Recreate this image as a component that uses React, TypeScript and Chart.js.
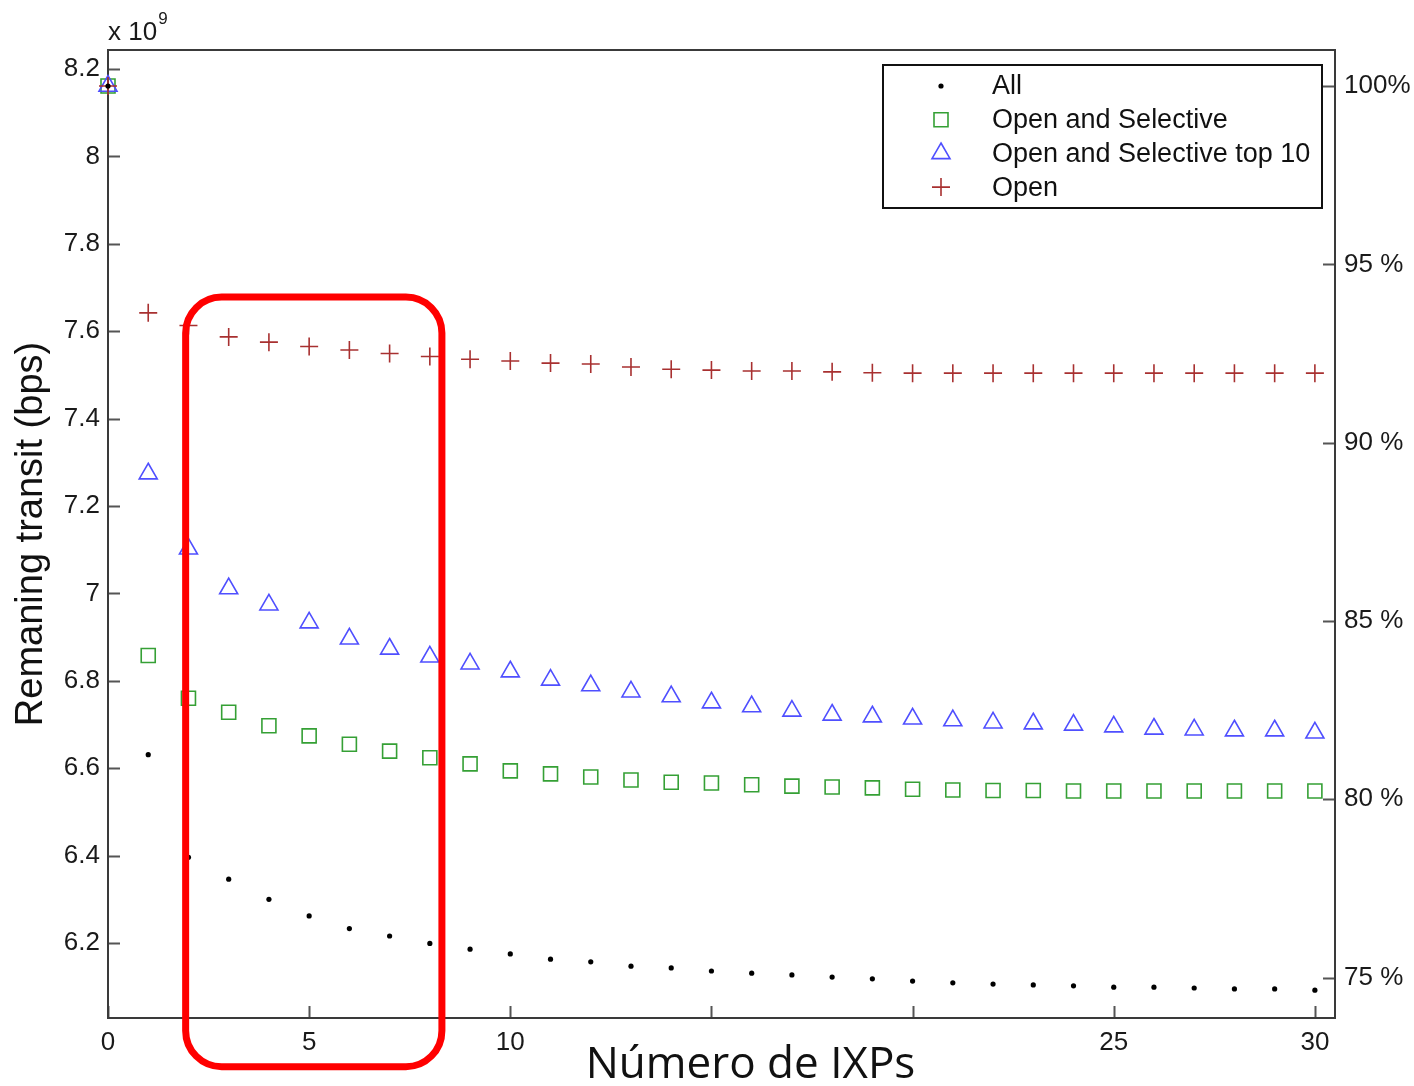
import React, { useEffect, useRef } from 'react';
import { Chart, registerables } from 'chart.js';

Chart.register(...registerables);

// ---- data (bps, in units of 10^9) ----
const IXPS = [0, 1, 2, 3, 4, 5, 6, 7, 8, 9, 10, 11, 12, 13, 14, 15, 16, 17, 18, 19, 20, 21, 22, 23, 24, 25, 26, 27, 28, 29, 30];
const ALL = [8.161, 6.631, 6.396, 6.346, 6.300, 6.262, 6.233, 6.216, 6.199, 6.186, 6.175, 6.163, 6.157, 6.147, 6.143, 6.136, 6.131, 6.127, 6.122, 6.118, 6.113, 6.109, 6.106, 6.104, 6.102, 6.099, 6.099, 6.097, 6.095, 6.095, 6.092];
const OPEN_SELECTIVE = [8.161, 6.858, 6.760, 6.728, 6.697, 6.674, 6.655, 6.639, 6.624, 6.610, 6.594, 6.587, 6.580, 6.573, 6.568, 6.566, 6.562, 6.559, 6.557, 6.555, 6.552, 6.550, 6.549, 6.549, 6.548, 6.548, 6.548, 6.548, 6.548, 6.548, 6.548];
const OPEN_SELECTIVE_TOP10 = [8.161, 7.274, 7.102, 7.011, 6.974, 6.933, 6.896, 6.873, 6.855, 6.839, 6.821, 6.802, 6.789, 6.775, 6.764, 6.750, 6.741, 6.731, 6.722, 6.718, 6.713, 6.709, 6.704, 6.702, 6.699, 6.695, 6.690, 6.688, 6.686, 6.686, 6.681];
const OPEN = [8.161, 7.642, 7.613, 7.587, 7.575, 7.565, 7.557, 7.549, 7.542, 7.536, 7.532, 7.527, 7.525, 7.518, 7.513, 7.511, 7.509, 7.509, 7.507, 7.505, 7.504, 7.504, 7.504, 7.504, 7.504, 7.504, 7.504, 7.504, 7.504, 7.504, 7.504];

const SERIES_LABELS = ['All', 'Open and Selective', 'Open and Selective top 10', 'Open'];

const X_TICKS = [0, 5, 10, 15, 20, 25, 30];
const X_TICK_LABELS = ['0', '5', '10', '', '', '25', '30'];
const Y_TICKS = [6.2, 6.4, 6.6, 6.8, 7, 7.2, 7.4, 7.6, 7.8, 8, 8.2];
const Y_TICK_LABELS = ['6.2', '6.4', '6.6', '6.8', '7', '7.2', '7.4', '7.6', '7.8', '8', '8.2'];
const PCT_TICKS = [75, 80, 85, 90, 95, 100];
const PCT_TICK_LABELS = ['75 %', '80 %', '85 %', '90 %', '95 %', '100%'];

const BASE_100 = 8.161; // value that corresponds to 100%
const X_MIN = 0;
const X_MAX = 30.5;
const Y_MIN = 6.0284;
const Y_MAX = 8.2435;

const X_TITLE = 'Número de IXPs';
const Y_TITLE = 'Remaning transit (bps)';
const EXP_TEXT = 'x 10';
const EXP_SUP = '9';

// highlighted region (data units)
const HIGHLIGHT_X = [1.93, 8.3];
const HIGHLIGHT_Y = [5.917, 7.678];

const SANS = '"Liberation Sans", Arial, Helvetica, sans-serif';

type Style = { point: string; radius: number; color: string; width: number };
const STYLES: Style[] = [
  { point: 'circle', radius: 2.6, color: '#000000', width: 0 },
  { point: 'rect', radius: 9.9, color: '#35a035', width: 1.6 },
  { point: 'triangle', radius: 10.4, color: '#4f4fff', width: 1.6 },
  { point: 'cross', radius: 9, color: '#a83030', width: 1.6 },
];
const SERIES = [ALL, OPEN_SELECTIVE, OPEN_SELECTIVE_TOP10, OPEN];
const DRAW_ORDER = [0, 3, 2, 1];

function drawMarker(ctx: CanvasRenderingContext2D, s: Style, x: number, y: number) {
  ctx.save();
  ctx.strokeStyle = s.color;
  ctx.fillStyle = s.color;
  ctx.lineWidth = s.width;
  const r = s.radius;
  ctx.beginPath();
  if (s.point === 'circle') {
    ctx.arc(x, y, r, 0, Math.PI * 2);
    ctx.fill();
  } else if (s.point === 'rect') {
    const h = r * Math.SQRT1_2;
    ctx.rect(x - h, y - h, 2 * h, 2 * h);
    ctx.stroke();
  } else if (s.point === 'triangle') {
    let a = 0;
    ctx.moveTo(x + Math.sin(a) * r, y - Math.cos(a) * r);
    a += (2 * Math.PI) / 3;
    ctx.lineTo(x + Math.sin(a) * r, y - Math.cos(a) * r);
    a += (2 * Math.PI) / 3;
    ctx.lineTo(x + Math.sin(a) * r, y - Math.cos(a) * r);
    ctx.closePath();
    ctx.stroke();
  } else {
    ctx.moveTo(x, y - r);
    ctx.lineTo(x, y + r);
    ctx.moveTo(x - r, y);
    ctx.lineTo(x + r, y);
    ctx.stroke();
  }
  ctx.restore();
}

const decorPlugin = {
  id: 'decor',
  beforeDraw(chart: any) {
    const { ctx, width, height } = chart;
    ctx.save();
    ctx.fillStyle = '#ffffff';
    ctx.fillRect(0, 0, width, height);
    ctx.restore();
  },
  beforeDatasetsDraw(chart: any) {
    const { ctx, chartArea: a, scales } = chart;
    ctx.save();
    // inner tick marks
    ctx.strokeStyle = '#555555';
    ctx.lineWidth = 2;
    const TL = 12;
    ctx.beginPath();
    for (const t of scales.x.ticks) {
      const p = Math.round(scales.x.getPixelForValue(t.value)) + 0.5;
      ctx.moveTo(p, a.bottom);
      ctx.lineTo(p, a.bottom - TL);
    }
    for (const t of scales.y.ticks) {
      const p = Math.round(scales.y.getPixelForValue(t.value)) + 0.5;
      ctx.moveTo(a.left, p);
      ctx.lineTo(a.left + TL, p);
    }
    for (const t of scales.y2.ticks) {
      const p = Math.round(scales.y2.getPixelForValue(t.value)) + 0.5;
      ctx.moveTo(a.right, p);
      ctx.lineTo(a.right - TL, p);
    }
    ctx.stroke();
    // frame
    ctx.strokeStyle = '#3a3a3a';
    ctx.lineWidth = 2;
    ctx.strokeRect(a.left, a.top, a.right - a.left, a.bottom - a.top);
    ctx.restore();
  },
  afterDraw(chart: any) {
    const { ctx, chartArea: a, scales } = chart;
    ctx.save();

    // exponent label
    ctx.fillStyle = '#1a1a1a';
    ctx.textBaseline = 'alphabetic';
    ctx.textAlign = 'left';
    ctx.font = `26px ${SANS}`;
    ctx.fillText(EXP_TEXT, a.left, a.top - 10);
    const w = ctx.measureText(EXP_TEXT).width;
    ctx.font = `17px ${SANS}`;
    ctx.fillText(EXP_SUP, a.left + w + 1, a.top - 26);

    // legend box
    const lw = 439;
    const lh = 143;
    const lx = a.right - 13 - lw;
    const ly = a.top + 15;
    ctx.fillStyle = '#ffffff';
    ctx.fillRect(lx, ly, lw, lh);
    ctx.strokeStyle = '#111111';
    ctx.lineWidth = 2;
    ctx.strokeRect(lx, ly, lw, lh);
    ctx.font = `27px ${SANS}`;
    ctx.textBaseline = 'middle';
    ctx.fillStyle = '#111111';
    SERIES_LABELS.forEach((label, i) => {
      const ry = ly + 21 + i * 33.7;
      drawMarker(ctx, STYLES[i], lx + 58, ry);
      ctx.fillStyle = '#111111';
      ctx.fillText(label, lx + 109, ry + 1);
    });

    // x axis title
    ctx.font = `44px "Open Sans", "Noto Sans", sans-serif`;
    ctx.textAlign = 'center';
    ctx.textBaseline = 'alphabetic';
    ctx.fillStyle = '#111111';
    ctx.fillText(X_TITLE, (a.left + a.right) / 2 + 29, a.bottom + 60);

    // highlight rectangle
    const x0 = scales.x.getPixelForValue(HIGHLIGHT_X[0]);
    const x1 = scales.x.getPixelForValue(HIGHLIGHT_X[1]);
    const yTop = scales.y.getPixelForValue(HIGHLIGHT_Y[1]);
    const yBot = scales.y.getPixelForValue(HIGHLIGHT_Y[0]);
    ctx.strokeStyle = '#ff0000';
    ctx.lineWidth = 7;
    ctx.beginPath();
    (ctx as any).roundRect(x0, yTop, x1 - x0, yBot - yTop, 36);
    ctx.stroke();

    ctx.restore();
  },
};

export default function App() {
  const ref = useRef<HTMLCanvasElement | null>(null);

  useEffect(() => {
    if (!ref.current) return;
    const datasets = SERIES.map((vals, i) => ({
      label: SERIES_LABELS[i],
      data: IXPS.map((x, j) => ({ x, y: vals[j] })),
      pointStyle: STYLES[i].point,
      pointRadius: STYLES[i].radius,
      pointHoverRadius: STYLES[i].radius,
      borderColor: STYLES[i].color,
      backgroundColor: STYLES[i].point === 'circle' ? STYLES[i].color : 'rgba(0,0,0,0)',
      pointBorderWidth: STYLES[i].width,
      borderWidth: STYLES[i].width,
      showLine: false,
      clip: false as any,
      order: DRAW_ORDER[i],
    }));

    const tickFont = { family: SANS, size: 26 };

    const chart = new Chart(ref.current, {
      type: 'scatter',
      data: { datasets: datasets as any },
      options: {
        animation: false,
        responsive: false,
        events: [],
        layout: { padding: { top: 50, left: 0, right: 0, bottom: 0 } },
        plugins: {
          legend: { display: false },
          tooltip: { enabled: false },
        },
        scales: {
          x: {
            type: 'linear',
            position: 'bottom',
            min: X_MIN,
            max: X_MAX,
            grid: { display: false, drawTicks: false },
            border: { display: false },
            afterBuildTicks: (s: any) => {
              s.ticks = X_TICKS.map((v) => ({ value: v }));
            },
            afterFit: (s: any) => {
              s.height = 68;
            },
            ticks: {
              autoSkip: false,
              maxRotation: 0,
              minRotation: 0,
              padding: 9,
              font: tickFont,
              color: '#1a1a1a',
              callback: (_v: any, i: number) => X_TICK_LABELS[i],
            },
          },
          y: {
            type: 'linear',
            position: 'left',
            min: Y_MIN,
            max: Y_MAX,
            grid: { display: false, drawTicks: false },
            border: { display: false },
            afterBuildTicks: (s: any) => {
              s.ticks = Y_TICKS.map((v) => ({ value: v }));
            },
            afterFit: (s: any) => {
              s.width = 108;
            },
            title: {
              display: true,
              text: Y_TITLE,
              color: '#111111',
              font: { family: SANS, size: 38 },
              padding: { top: 9, bottom: 0 },
            },
            ticks: {
              autoSkip: false,
              padding: 8,
              font: tickFont,
              color: '#1a1a1a',
              callback: (_v: any, i: number) => Y_TICK_LABELS[i],
            },
          },
          y2: {
            type: 'linear',
            position: 'right',
            min: (Y_MIN / BASE_100) * 100,
            max: (Y_MAX / BASE_100) * 100,
            grid: { display: false, drawTicks: false },
            border: { display: false },
            afterBuildTicks: (s: any) => {
              s.ticks = PCT_TICKS.map((v) => ({ value: v }));
            },
            afterFit: (s: any) => {
              s.width = 79;
            },
            ticks: {
              autoSkip: false,
              padding: 9,
              font: tickFont,
              color: '#1a1a1a',
              callback: (_v: any, i: number) => PCT_TICK_LABELS[i],
            },
          },
        },
      } as any,
      plugins: [decorPlugin],
    });

    return () => chart.destroy();
  }, []);

  return (
    <div style={{ position: 'absolute', left: 0, top: 0, width: 1414, height: 1086, background: '#fff' }}>
      <canvas ref={ref} width={1414} height={1086} style={{ display: 'block', width: 1414, height: 1086 }} />
    </div>
  );
}
